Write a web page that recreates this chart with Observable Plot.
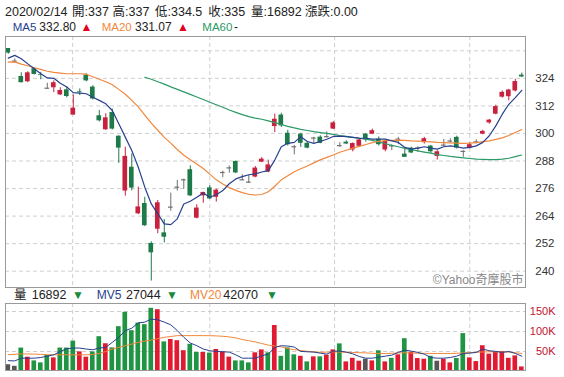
<!DOCTYPE html>
<html><head><meta charset="utf-8">
<script src="https://cdn.jsdelivr.net/npm/d3@7"></script>
<script src="https://cdn.jsdelivr.net/npm/@observablehq/plot@0.6"></script>
<style>
body{margin:0;background:#fff;font-family:"Liberation Sans",Arial,"Noto Sans CJK TC",sans-serif;}
#wrap{position:relative;width:564px;height:377px;overflow:hidden;background:#fff;}
.t{position:absolute;white-space:nowrap;line-height:1;color:#222;}
#wrap svg{position:absolute;left:0;}
</style></head><body><div id="wrap"></div>
<script>
// ---- data (first candle = 2020/02/14) ----
const firstDate = "2020/02/14";
const firstChange = 0.00;
const open = [337,331.5,324.8,322.5,328.2,325.6,319.7,319.9,316.8,319.0,
  308.0,318.3,325.4,320.2,307.7,301.6,309.1,298.8,274.9,285.3,
  265.0,269.5,252.1,258.3,256.7,267.9,276.6,279.8,284.2,263.1,
  272.8,276.3,272.2,283.0,285.0,287.8,279.8,278.8,281.0,287.5,
  283.2,303.0,308.0,300.1,294.2,299.7,295.7,298.0,298.4,298.6,
  301.9,294.7,296.2,292.8,294.4,299.7,299.7,297.5,292.8,294.6,
  297.5,291.0,293.6,293.6,296.0,294.5,290.0,294.9,296.7,298.3,
  292.2,293.6,296.3,299.7,304.6,308.4,315.8,316.0,318.5,325.4];
const high = [337,332.5,326.4,326.9,328.6,326.6,321.9,322.9,319.9,320.2,
  316.8,319.4,326.0,320.8,310.0,308.6,310.6,299.0,294.0,291.1,
  276.6,272.2,252.8,270.8,262.5,274.0,279.5,280.1,285.9,268.9,
  274.4,277.2,275.7,283.6,285.8,288.0,282.0,281.7,285.6,289.5,
  288.4,308.4,308.8,301.4,294.8,300.1,296.5,298.3,299.0,300.7,
  305.2,296.0,296.8,295.9,297.5,300.0,301.9,298.5,297.2,295.1,
  298.3,293.2,294.0,294.2,298.3,294.8,292.5,297.4,297.7,298.8,
  292.5,296.0,297.2,301.4,306.1,312.3,318.5,319.2,323.6,326.3];
const low = [334.5,330.6,322.0,322.2,325.5,323.4,319.3,317.8,316.5,315.5,
  308.0,316.5,322.5,314.6,305.0,301.3,301.5,287.0,272.7,275.0,
  264.7,259.5,235.7,256.3,252.3,266.1,274.9,275.7,272.5,262.8,
  269.6,271.2,270.1,280.7,282.7,282.5,279.6,278.3,280.7,287.3,
  282.9,300.4,302.6,294.5,290.7,293.9,293.3,295.7,295.5,298.0,
  301.7,294.0,295.2,292.0,294.2,296.2,299.5,294.5,292.0,292.5,
  295.1,289.5,291.2,291.8,295.4,291.3,288.4,294.2,296.0,293.2,
  289.6,293.3,295.4,299.4,304.0,308.1,315.4,314.2,318.1,324.3];
const close = [335,331.5,322.1,326.4,325.7,325.3,319.7,322.1,318.7,316.1,
  311.0,318.0,322.9,315.0,305.5,306.8,301.9,293.6,290.0,276.2,
  268.0,259.8,248.0,269.8,254.8,267.9,276.6,279.8,272.8,267.5,
  274.3,271.5,275.3,283.0,285.0,282.8,279.8,278.8,284.9,288.8,
  286.3,306.2,303.3,295.1,294.2,295.7,293.6,298.0,295.7,298.6,
  304.6,294.7,295.4,295.6,297.2,297.2,301.2,295.1,296.5,294.6,
  297.5,289.6,291.5,293.6,297.7,292.0,292.0,294.9,296.7,293.6,
  292.2,295.1,296.3,300.9,305.8,311.7,317.9,318.9,322.6,324.6];
const ma5 = [332.8,334.0,332.5,330.3,328.2,326.0,324.2,324.0,321.9,320.2,
  317.8,317.6,317.3,315.8,314.4,312.9,310.0,304.2,298.4,292.6,
  285.3,276.6,269.3,265.0,260.6,260.3,262.8,269.3,270.5,272.2,
  274.1,272.2,273.3,275.1,278.1,280.2,281.2,282.0,282.4,283.2,
  283.8,288.4,294.2,295.7,296.1,298.6,296.5,295.7,296.5,297.5,
  298.7,298.8,298.6,298.3,298.0,297.9,297.5,297.5,297.5,296.8,
  296.1,293.9,293.2,293.6,294.2,293.6,293.2,294.2,294.6,294.2,
  293.6,293.9,294.6,296.1,299.0,303.3,308.4,312.7,315.6,318.8];
const ma20 = [331.07,331.2,330.2,329.5,328.6,327.9,327.1,326.6,326.3,326.0,
  326.0,326.0,325.8,324.7,323.6,322.5,321.2,319.2,317.1,314.4,
  311.6,308.0,304.5,301.4,298.3,295.8,293.0,290.5,288.5,286.7,
  284.7,282.3,279.8,278.0,276.4,275.2,274.2,273.5,273.2,273.4,
  274.6,277.0,279.8,281.6,283.3,284.6,285.8,287.2,288.5,289.6,
  290.6,291.8,292.7,293.6,294.4,295.2,296.0,296.6,296.9,297.0,
  297.1,297.0,296.8,296.7,296.5,296.3,296.1,296.0,295.9,295.8,
  295.7,295.8,296.0,296.4,296.8,297.4,298.1,299.1,300.4,301.7];
const ma60 = [null,null,null,null,null,null,null,null,null,null,
  null,null,null,null,null,null,null,null,null,null,
  null,324.5,323.6,322.5,321.5,320.3,319.2,318.1,317.0,315.9,
  314.8,313.6,312.5,311.4,310.2,309.2,308.2,307.3,306.7,306.2,
  305.5,304.7,303.9,303.1,302.4,301.8,301.3,300.8,300.4,300.0,
  299.6,299.1,298.7,298.3,297.9,297.5,297.0,296.3,295.5,294.8,
  294.2,293.5,292.9,292.4,291.9,291.4,290.8,290.4,290.0,289.7,
  289.4,289.1,288.8,288.7,288.6,288.6,288.8,289.2,289.9,290.6];
// volume in thousands of lots, and sign of the day's change (1 up, -1 down, 0 flat)
const volK = [16.892,13,58.6,35.8,26.5,21.5,40,34,58.6,58.6,
  76,49,35.8,49,87,69.4,59,112,148,102,
  121,117,158,154.5,74,80,77,52,68,47.5,
  47.5,46,55,49,36,26.5,26.5,21.5,46.7,54,
  46.7,115,38,59,41.7,38,24,36.6,36.6,40.8,
  54,69,24,33,25.7,30.8,26.5,51.8,24,33,
  41.7,82,48.4,32.4,30.8,38,25.7,30.8,21.5,32.4,
  94.7,34,24.8,64.4,43.4,48.4,50,33,39,11.4];
const volDir = [0,0,-1,1,-1,-1,-1,1,-1,-1,
  -1,1,1,-1,-1,1,-1,-1,-1,-1,
  -1,-1,-1,1,-1,1,1,1,-1,-1,
  1,-1,1,1,1,-1,-1,-1,1,1,
  -1,1,-1,-1,-1,1,-1,1,-1,1,
  1,-1,1,1,1,0,1,-1,1,-1,
  1,-1,1,1,1,-1,0,1,1,-1,
  -1,1,1,1,1,1,1,1,1,1];
const mv5 = [27.044,26.5,33.3,33.3,33.3,35.0,38.4,41.7,50.2,56.9,
  58.6,58.6,56.1,54.4,58.6,60.3,72.9,85.5,102.3,108.2,
  121.7,123.4,131.0,129.3,123.4,116.7,102.3,85.5,71.2,64.5,
  56.1,51.9,50.2,49.3,48.5,41.7,33.3,33.3,33.3,39.3,
  43.4,60.3,64.5,63.6,61.1,50.2,49.3,48.5,45.9,43.4,
  51.0,51.0,48.5,44.2,37.5,33.3,33.3,35.8,38.4,40.9,
  47.7,53.5,51.0,47.7,43.4,35.0,33.3,33.3,35.0,38.4,
  45.1,45.9,47.7,56.1,51.9,50.2,47.7,50.2,45.1,38.4];
const mv20 = [42.07,43,44,43.8,43.4,42.8,42,41.7,41.7,41.7,
  41.7,41.7,41.7,42.5,45.1,50,56.1,60.3,64.5,68.6,
  72.9,76,78.7,82,85.5,87.5,89.7,89.7,89.7,89.7,
  89.7,89.5,89,88,86.5,84,80,77,74,70,
  66,63.5,61.5,57.5,54.5,52.5,50.5,49.0,48.0,48.5,
  49.0,48.5,48.0,47.5,47.0,46.5,45.5,45.1,45.1,45.5,
  46.5,46.8,46.2,45.7,45.3,45.1,45.1,45.1,45.1,45.5,
  46.5,47.2,48.2,48.8,49.2,49.3,49.0,48.5,47.0,45.1];
const priceGrid = [240,252,264,276,288,300,312,324,336];
const priceLabels = [240,252,264,276,288,300,312,324];
const volTicks = [50,100,150];
const monthIdx = [9.9,31,50.2,71];  // month boundaries (candle index)

// ---- styles ----
const UP = "#c8213d", DOWN = "#1f7a4a", FLAT = "#6f6f6f";
const VUP = "#e01a30", VDOWN = "#1f9443", VFLAT = "#555";
const BLUE = "#27408f", ORANGE = "#f0873c", GREEN = "#2b9a66";
const FONT = "Liberation Sans, Arial, Noto Sans CJK TC, sans-serif";
const W = 0.36;
const grid = {stroke: "#cfcfcf", strokeOpacity: 1, strokeDasharray: "4,3"};

const rows = open.map((o, i) => ({i, o, h: high[i], l: low[i], c: close[i],
  ma5: ma5[i], ma20: ma20[i], ma60: ma60[i]}));
const col = d => d.c > d.o ? UP : d.c < d.o ? DOWN : FLAT;
const vrows = volK.map((v, i) => ({i, v, d: volDir[i], mv5: mv5[i], mv20: mv20[i]}));
const vcol = d => d.d > 0 ? VUP : d.d < 0 ? VDOWN : VFLAT;

const wrap = document.getElementById("wrap");
function put(text, left, top, size, color) {
  const s = document.createElement("span");
  s.className = "t"; s.textContent = text;
  s.style.left = left + "px"; s.style.top = top + "px";
  s.style.fontSize = size + "px"; if (color) s.style.color = color;
  wrap.appendChild(s);
}

// header line 1
const L1 = 5.9, F1 = 12.5;
put(firstDate, 5, L1, F1);
put("開:" + open[0], 72, L1, F1);
put("高:" + high[0], 112.5, L1, F1);
put("低:" + low[0], 155, L1, F1);
put("收:" + close[0], 208.3, L1, F1);
put("量:" + Math.round(volK[0] * 1000), 251, L1, F1);
put("漲跌:" + firstChange.toFixed(2), 305, L1, F1);
// header line 2
put("MA5", 12.7, 21.8, 11.5, BLUE);
put(ma5[0].toFixed(2), 39.3, 21.3, 12);
put("▲", 80.5, 21.3, 12, "#e3001b");
put("MA20", 101.7, 21.8, 11.5, ORANGE);
put(ma20[0].toFixed(2), 135, 21.3, 12);
put("▲", 177, 21.3, 12, "#e3001b");
put("MA60", 202.3, 21.8, 11.5, GREEN);
put(ma60[0] == null ? "-" : ma60[0].toFixed(2), 234, 21.3, 12);
// volume header
put("量", 14, 288.9, 12.5);
put(String(Math.round(volK[0] * 1000)), 31.7, 288.9, 12.5);
put("▼", 72, 289.3, 12, "#1b8a3c");
put("MV5", 96.7, 289.3, 12, BLUE);
put(String(Math.round(mv5[0] * 1000)), 126, 288.9, 12.5);
put("▼", 166, 289.3, 12, "#1b8a3c");
put("MV20", 190, 289.3, 12, ORANGE);
put(String(Math.round(mv20[0] * 1000)), 223.3, 288.9, 12.5);
put("▼", 266, 289.3, 12, "#1b8a3c");

// price panel
const price = Plot.plot({
  width: 564, height: 265, marginTop: 6, marginBottom: 8, marginLeft: 5, marginRight: 39,
  x: {domain: [-0.43, 79.57], axis: null},
  y: {domain: [232.9, 342.23], label: null, axis: null},
  color: {type: "identity"},
  style: {fontFamily: FONT, background: "transparent", overflow: "visible"},
  marks: [
    Plot.gridY(priceGrid, grid),
    Plot.gridX(monthIdx, grid),
    Plot.axisY(priceLabels, {anchor: "right", tickSize: 0, tickPadding: 29, textAnchor: "end",
      fill: "#333", fontSize: 11.5, label: null}),
    Plot.ruleX(rows, {x: "i", y1: "l", y2: "h", stroke: col, strokeWidth: 1}),
    Plot.rect(rows, {x1: d => d.i - W, x2: d => d.i + W, y1: "o", y2: "c", fill: col}),
    Plot.ruleY(rows.filter(d => d.o === d.c), {x1: d => d.i - W, x2: d => d.i + W, y: "c", stroke: col, strokeWidth: 1.2}),
    Plot.line(rows, {x: "i", y: "ma60", stroke: GREEN, strokeWidth: 1.2, defined: d => d.ma60 != null}),
    Plot.line(rows, {x: "i", y: "ma20", stroke: ORANGE, strokeWidth: 1.2}),
    Plot.line(rows, {x: "i", y: "ma5", stroke: BLUE, strokeWidth: 1.2}),
    Plot.frame({stroke: "#999"}),
    Plot.text(["©Yahoo奇摩股市"], {frameAnchor: "bottom-right", dx: -2, dy: -4, fill: "#888", fontSize: 12})
  ]
});
price.style.top = "30px";
wrap.appendChild(price);

// volume panel
const vol = Plot.plot({
  width: 564, height: 74, marginTop: 3, marginBottom: 4, marginLeft: 5, marginRight: 39,
  x: {domain: [-0.43, 79.57], axis: null},
  y: {domain: [2.5, 170], label: null, axis: null},
  color: {type: "identity"},
  style: {fontFamily: FONT, background: "transparent", overflow: "visible"},
  marks: [
    Plot.gridY(volTicks, grid),
    Plot.gridX(monthIdx, grid),
    Plot.axisY(volTicks, {anchor: "right", tickSize: 0, tickPadding: 30, textAnchor: "end",
      tickFormat: d => d + "K", fill: "#c4122f", fontSize: 11, label: null}),
    Plot.rect(vrows, {x1: d => d.i - W, x2: d => d.i + W, y1: d => 0, y2: "v", fill: vcol, clip: true}),
    Plot.line(vrows, {x: "i", y: "mv20", stroke: ORANGE, strokeWidth: 1}),
    Plot.line(vrows, {x: "i", y: "mv5", stroke: BLUE, strokeWidth: 1}),
    Plot.frame({stroke: "#999"})
  ]
});
vol.style.top = "300px";
wrap.appendChild(vol);
</script>
</body></html>
